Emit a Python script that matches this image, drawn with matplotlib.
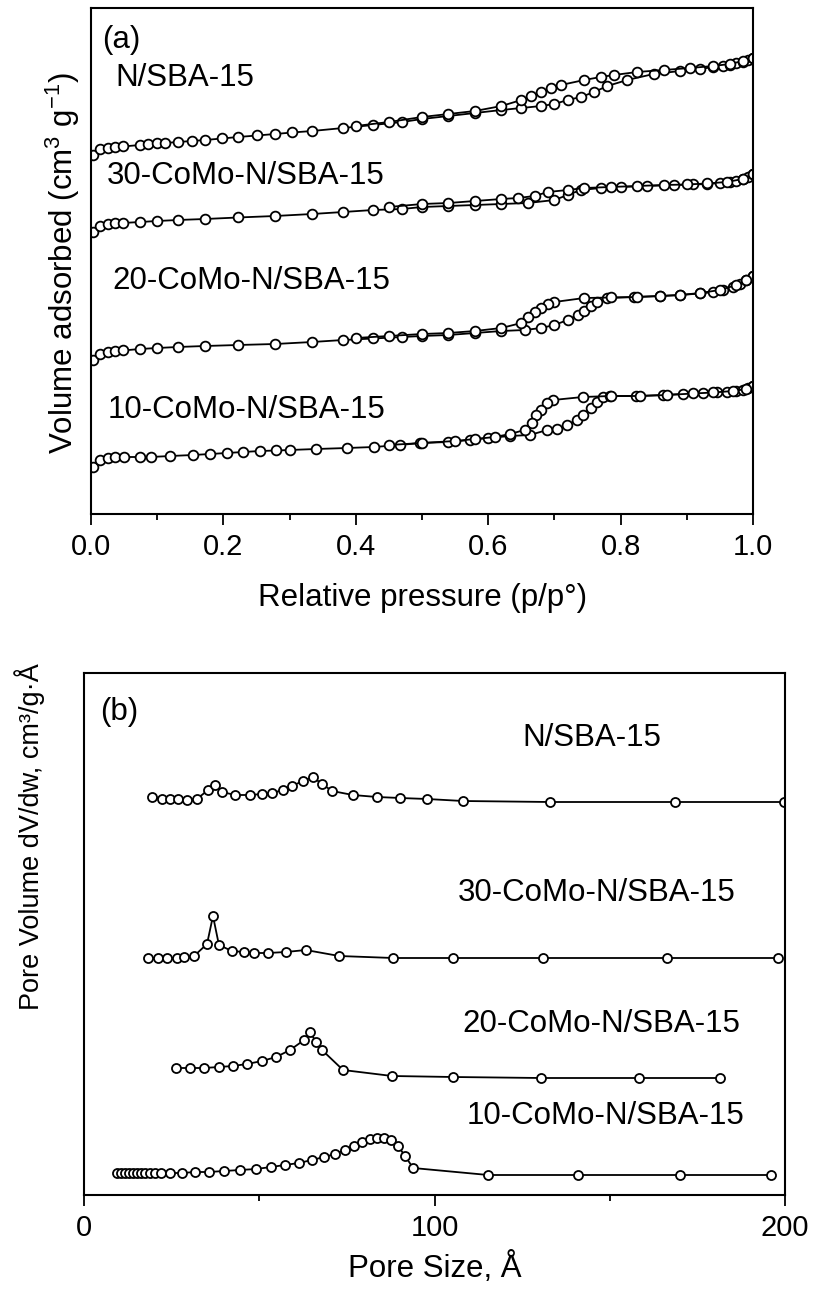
import numpy as np
import matplotlib.pyplot as plt
from matplotlib.ticker import MultipleLocator

plt.rcParams['font.family'] = ['Liberation Sans', 'DejaVu Sans']
plt.rcParams['mathtext.fontset'] = 'custom'
plt.rcParams['mathtext.rm'] = 'Liberation Sans'
plt.rcParams['mathtext.it'] = 'Liberation Sans:italic'

# (a) N2 isotherms, relative pressure vs volume (curves stacked, arbitrary offset units)
n_ads_p = [0.003, 0.014, 0.026, 0.036, 0.048, 0.074, 0.086, 0.100, 0.112, 0.131, 0.153, 0.172, 0.198, 0.222,
           0.251, 0.278, 0.304, 0.334, 0.381, 0.426, 0.470, 0.500, 0.540, 0.580, 0.620, 0.650, 0.680, 0.700,
           0.720, 0.740, 0.760, 0.780, 0.810, 0.850, 0.890, 0.920, 0.940, 0.955, 0.965, 0.975, 0.985, 0.993, 1.000]
n_ads_v = [359, 365, 366, 367, 367.5, 369, 369.5, 370.5, 371, 372, 373, 374, 375.5, 377,
           378.5, 380, 381.5, 383, 386, 389, 392, 395, 398, 401, 404, 406, 408, 410,
           414, 417, 422, 428, 434, 440, 443, 445, 447, 448, 449, 450.5, 452, 454, 456]
n_des_p = [1.0, 0.985, 0.965, 0.94, 0.905, 0.865, 0.825, 0.79, 0.77, 0.745, 0.71, 0.695, 0.68, 0.665,
           0.65, 0.62, 0.58, 0.54, 0.50, 0.45, 0.40]
n_des_v = [456, 453, 450, 448, 446, 444, 442, 439, 437, 434, 429, 426, 422, 418,
           414, 408, 403, 400, 397, 392, 388]

c30_ads_p = [0.003, 0.014, 0.026, 0.036, 0.048, 0.074, 0.100, 0.131, 0.172, 0.222, 0.278, 0.334, 0.381, 0.426,
             0.470, 0.500, 0.540, 0.580, 0.620, 0.660, 0.700, 0.720, 0.740, 0.770, 0.800, 0.840, 0.880, 0.910,
             0.930, 0.950, 0.965, 0.975, 0.985, 0.993, 1.000]
c30_ads_v = [282, 288, 290, 290.5, 291, 292, 293, 294, 295, 296.5, 298, 300, 302, 304,
             305, 307, 308, 309, 310, 311, 314, 319, 324, 326, 327, 328, 329, 329.5,
             330, 331, 332, 333, 335, 337, 340]
c30_des_p = [1.0, 0.985, 0.96, 0.93, 0.90, 0.865, 0.825, 0.785, 0.745, 0.72, 0.69, 0.67, 0.645, 0.62,
             0.58, 0.54, 0.50, 0.45]
c30_des_v = [340, 335, 332, 330.5, 329.5, 329, 328, 327, 326, 324, 322, 318, 316, 315,
             313, 311, 310, 307]

c20_ads_p = [0.003, 0.014, 0.026, 0.036, 0.048, 0.074, 0.100, 0.131, 0.172, 0.222, 0.278, 0.334, 0.381, 0.426,
             0.470, 0.500, 0.540, 0.580, 0.620, 0.655, 0.680, 0.700, 0.720, 0.735, 0.745, 0.755, 0.765, 0.780,
             0.820, 0.860, 0.890, 0.920, 0.940, 0.955, 0.970, 0.980, 0.990, 1.000]
c20_ads_v = [154, 160, 162, 163, 163.5, 165, 166, 167, 168, 169, 170, 172, 174, 175.5,
             177, 178, 179, 181, 183, 184, 186, 189, 194, 199, 203, 208, 212, 216,
             217, 218, 219, 220.5, 222, 224, 227, 230, 234, 238]
c20_des_p = [1.0, 0.99, 0.975, 0.95, 0.92, 0.89, 0.86, 0.825, 0.785, 0.745, 0.70, 0.69, 0.68, 0.67,
             0.66, 0.65, 0.62, 0.58, 0.54, 0.50, 0.45, 0.40]
c20_des_v = [238, 234, 229, 224, 221, 219, 218, 217, 216.5, 216, 212, 210, 206, 202,
             197, 191, 186, 183, 181, 180, 178, 176]

c10_ads_p = [0.003, 0.014, 0.026, 0.036, 0.050, 0.074, 0.090, 0.120, 0.154, 0.180, 0.205, 0.230, 0.255, 0.280,
             0.300, 0.340, 0.387, 0.427, 0.467, 0.497, 0.540, 0.572, 0.600, 0.633, 0.663, 0.689, 0.704, 0.719,
             0.734, 0.743, 0.755, 0.764, 0.773, 0.784, 0.824, 0.864, 0.894, 0.924, 0.945, 0.960, 0.975, 0.985,
             0.993, 1.000]
c10_ads_v = [47, 54, 56, 56.5, 57, 57, 57, 58, 59, 60, 61, 62, 63, 63.5,
             64, 65, 66, 67, 69, 71, 72, 74, 76, 78, 79, 84, 85, 89,
             94, 99, 106, 112, 117, 118, 118, 119, 120, 121, 122, 122, 123, 124,
             126, 128]
c10_des_p = [1.0, 0.99, 0.97, 0.94, 0.91, 0.87, 0.83, 0.785, 0.743, 0.698, 0.689, 0.68, 0.672, 0.666,
             0.655, 0.633, 0.61, 0.58, 0.55, 0.50, 0.45]
c10_des_v = [128, 125, 123, 121.5, 120.5, 119, 118, 118, 117, 114, 111, 104, 99, 91,
             84, 80, 77, 75, 73, 71, 69]

# (b) pore size distributions (pore size in Angstrom, stacked dV/dw in arbitrary units)
n_w = [19.4, 22.3, 24.5, 26.8, 29.4, 32.2, 35.4, 37.4, 39.4, 43.1, 47.4, 50.8, 53.6, 56.8,
       59.3, 62.5, 65.3, 67.9, 70.8, 76.7, 83.6, 90.2, 97.9, 108.1, 133.0, 168.6, 199.8]
n_dv = [403, 401, 401, 401, 400, 401, 410, 415, 408, 405, 405, 406, 407, 410,
        414, 419, 423, 416, 409, 405, 403, 402, 401, 399, 398, 398, 398]

c30_w = [18.3, 21.1, 23.7, 26.5, 28.5, 31.4, 35.1, 36.8, 38.5, 42.2, 45.6, 48.5, 52.5, 57.6,
         63.3, 72.8, 88.2, 105.3, 131.0, 166.3, 198.0]
c30_dv = [242, 242, 242, 242, 243, 244, 256, 284, 255, 249, 248, 247, 247, 248,
          250, 244, 242, 242, 242, 242, 242]

c20_w = [26.2, 30.2, 34.2, 38.5, 42.5, 46.5, 50.8, 54.8, 58.8, 62.8, 64.5, 66.2, 67.9, 73.9,
         87.9, 105.3, 130.4, 158.3, 181.5]
c20_dv = [132, 132, 132, 133, 134, 136, 139, 143, 150, 160, 168, 158, 150, 130,
          124, 123, 122, 122, 122]

c10_w = [9.4, 10.6, 11.7, 12.8, 14.0, 15.1, 16.3, 17.4, 18.8, 20.3, 22.0, 24.5, 28.0, 31.7,
         35.7, 39.9, 44.5, 49.1, 53.4, 57.3, 61.3, 65.0, 68.5, 71.6, 74.5, 77.0, 79.3, 81.6,
         83.6, 85.6, 87.6, 89.6, 91.6, 93.9, 115.3, 140.9, 170.0, 196.0]
c10_dv = [27, 27, 27, 27, 27, 27, 27, 27, 27, 27, 27, 27, 27, 28,
          28, 29, 30, 31, 33, 35, 37, 40, 43, 46, 50, 54, 58, 61,
          62, 62, 60, 54, 44, 32, 25, 25, 25, 25]

W, H = 817, 1291
fig = plt.figure(figsize=(W / 100, H / 100), dpi=100)

ax1 = fig.add_axes([91 / W, 1 - 514 / H, 662 / W, 506 / H])
ax2 = fig.add_axes([84 / W, 1 - 1195 / H, 701 / W, 522 / H])

sty = dict(color='black', lw=1.3, marker='o', ms=7, mfc='white', mec='black', mew=1.3)
for p, v in [(n_ads_p, n_ads_v), (n_des_p, n_des_v), (c30_ads_p, c30_ads_v), (c30_des_p, c30_des_v),
             (c20_ads_p, c20_ads_v), (c20_des_p, c20_des_v), (c10_ads_p, c10_ads_v), (c10_des_p, c10_des_v)]:
    ax1.plot(p, v, **sty)

sty2 = dict(color='black', lw=1.3, marker='o', ms=6.5, mfc='white', mec='black', mew=1.3)
for w, dv in [(n_w, n_dv), (c30_w, c30_dv), (c20_w, c20_dv), (c10_w, c10_dv)]:
    ax2.plot(w, dv, **sty2)

ax1.set_xlim(0, 1.0)
ax1.set_ylim(0, 506)
ax1.xaxis.set_major_locator(MultipleLocator(0.2))
ax1.xaxis.set_minor_locator(MultipleLocator(0.1))
ax1.xaxis.set_major_formatter(lambda x, pos: f'{x:.1f}')

ax2.set_xlim(0, 200)
ax2.set_ylim(5, 527)
ax2.xaxis.set_major_locator(MultipleLocator(100))
ax2.xaxis.set_minor_locator(MultipleLocator(50))

for ax in (ax1, ax2):
    ax.set_yticks([])
    for s in ax.spines.values():
        s.set_linewidth(1.5)
    ax.tick_params(axis='x', which='major', direction='out', length=8, width=1.3, labelsize=21, pad=6)
    ax.tick_params(axis='x', which='minor', direction='out', length=4.5, width=1.3)

fs = 22.5


def label(x, y, s, **kw):
    # place text by pixel position in the figure (left edge, vertical centre)
    fig.text(x / W, 1 - y / H, s, fontsize=kw.pop('fontsize', fs), va='center', **kw)


label(102, 40, '(a)')
label(115, 78, 'N/SBA-15')
label(107, 176, '30-CoMo-N/SBA-15')
label(112, 281, '20-CoMo-N/SBA-15')
label(108, 410, '10-CoMo-N/SBA-15')

label(100, 712, '(b)')
label(522, 738, 'N/SBA-15')
label(458, 893, '30-CoMo-N/SBA-15')
label(462, 1024, '20-CoMo-N/SBA-15')
label(467, 1116, '10-CoMo-N/SBA-15')

label(423, 598, 'Relative pressure (p/p°)', ha='center')
label(63, 263, 'Volume adsorbed (cm$^3$ g$^{-1}$)', rotation=90, ha='center')
label(435, 1268, 'Pore Size, Å', ha='center')
label(30, 837, 'Pore Volume dV/dw, cm³/g·Å', rotation=90, ha='center', fontsize=19.5)

fig.savefig('out.png', dpi=100)
